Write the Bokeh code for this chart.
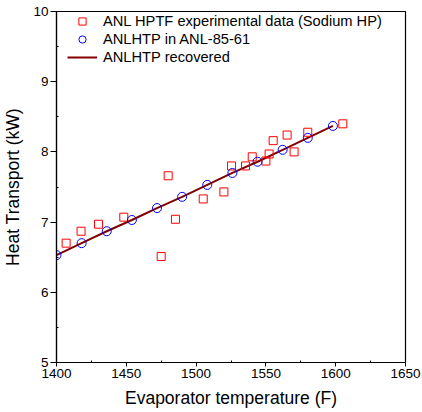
from bokeh.plotting import figure
from bokeh.models import Legend, LegendItem, FixedTicker
from bokeh.embed import file_html
from bokeh.resources import INLINE

# Experimental data (red squares)
exp_T = [1406.9, 1417.6, 1430.1, 1448.2, 1475.0, 1480.0, 1485.2, 1505.1, 1519.9, 1525.4,
         1535.4, 1540.2, 1550.0, 1552.3, 1555.2, 1565.2, 1570.2, 1580.0, 1605.1]
exp_Q = [6.70, 6.87, 6.97, 7.07, 6.51, 7.66, 7.04, 7.33, 7.43, 7.80,
         7.80, 7.93, 7.87, 7.97, 8.16, 8.24, 8.00, 8.28, 8.40]

# ANLHTP in ANL-85-61 (blue circles)
anl_T = [1400, 1418, 1436, 1454, 1472, 1490, 1508, 1526, 1544, 1562, 1580, 1598]
anl_Q = [6.53, 6.70, 6.87, 7.03, 7.20, 7.36, 7.53, 7.70, 7.86, 8.03, 8.20, 8.37]

# ANLHTP recovered (line)
rec_T = [1400, 1418, 1436, 1454, 1472, 1490, 1508, 1526, 1544, 1562, 1580, 1598]
rec_Q = [6.53, 6.70, 6.87, 7.03, 7.20, 7.36, 7.53, 7.70, 7.86, 8.03, 8.20, 8.37]

x_ticks = [1400, 1450, 1500, 1550, 1600, 1650]
x_minor = [1425, 1475, 1525, 1575, 1625]
y_ticks = [5, 6, 7, 8, 9, 10]
y_minor = [5.5, 6.5, 7.5, 8.5, 9.5]
labels = ["ANL HPTF experimental data (Sodium HP)", "ANLHTP in ANL-85-61", "ANLHTP recovered"]

FONT = "Liberation Sans"

p = figure(width=422, height=412, output_backend="svg", toolbar_location=None,
           x_range=(1400, 1650), y_range=(5, 10),
           min_border_left=56, min_border_top=11, min_border_right=17, min_border_bottom=50)
p.background_fill_color = "white"
p.border_fill_color = "white"
p.outline_line_color = "black"
p.outline_line_width = 1.2
p.xgrid.visible = False
p.ygrid.visible = False

r_line = p.line(rec_T, rec_Q, line_color="#800000", line_width=2)
r_sq = p.scatter(exp_T, exp_Q, marker="square", size=8, fill_color=None,
                 line_color="#FF0000", line_width=1)
r_ci = p.scatter(anl_T, anl_Q, marker="circle", size=9, fill_color=None,
                 line_color="#0000FF", line_width=1)

for ax in (p.xaxis[0], p.yaxis[0]):
    ax.axis_line_color = "black"
    ax.axis_line_width = 1.2
    ax.major_tick_line_color = "black"
    ax.minor_tick_line_color = "black"
    ax.major_label_text_font = FONT
    ax.major_label_text_font_size = "13.5px"
    ax.major_label_text_color = "black"
    ax.axis_label_text_font = FONT
    ax.axis_label_text_font_size = "17.5px"
    ax.axis_label_text_font_style = "normal"
    ax.axis_label_text_color = "black"

p.xaxis.ticker = FixedTicker(ticks=x_ticks, minor_ticks=x_minor)
p.yaxis.ticker = FixedTicker(ticks=y_ticks, minor_ticks=y_minor)
p.xaxis.major_tick_out = 4
p.xaxis.major_tick_in = 0
p.xaxis.minor_tick_out = 0
p.xaxis.minor_tick_in = 2
p.yaxis.major_tick_out = 6
p.yaxis.major_tick_in = 0
p.yaxis.minor_tick_out = 0
p.yaxis.minor_tick_in = 2
p.xaxis.major_label_standoff = 2
p.yaxis.major_label_standoff = 2
p.xaxis.axis_label = "Evaporator temperature (F)"
p.yaxis.axis_label = "Heat Transport (kW)"
p.xaxis.axis_label_standoff = 7
p.yaxis.axis_label_standoff = 7

legend = Legend(items=[
    LegendItem(label=labels[0], renderers=[r_sq]),
    LegendItem(label=labels[1], renderers=[r_ci]),
    LegendItem(label=labels[2], renderers=[r_line]),
], location=(11, 296))
legend.border_line_color = None
legend.background_fill_alpha = 0
legend.padding = 0
legend.margin = 0
legend.spacing = 0
legend.glyph_width = 30
legend.glyph_height = 18
legend.label_height = 18
legend.label_standoff = 6
legend.label_text_font = FONT
legend.label_text_font_size = "14.67px"
legend.label_text_color = "black"
p.add_layout(legend, "center")

open("out.html", "w").write(file_html(p, INLINE))
